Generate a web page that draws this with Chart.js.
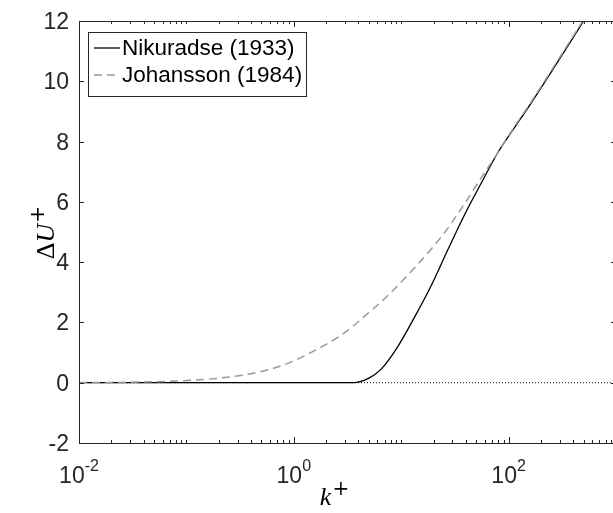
<!DOCTYPE html>
<html>
<head>
<meta charset="utf-8">
<script src="https://cdn.jsdelivr.net/npm/chart.js@4.4.1/dist/chart.umd.min.js"></script>
<style>
  html, body { margin: 0; padding: 0; background: #fff; overflow: hidden; }
  #wrap { width: 616px; height: 513px; }
</style>
</head>
<body>
<div id="wrap"><canvas id="myChart" width="616" height="513"></canvas></div>
<script>
// Nikuradse (1933), solid black
const nikK  = [0.01, 3.6, 5, 6.5, 9.3, 13.2, 18.9, 27.1, 38.6, 55.2, 79, 112.8, 161, 1000];
const nikDU = [0, 0, 0.15, 0.45, 1.2, 2.15, 3.2, 4.4, 5.55, 6.6, 7.62, 8.45, 9.26, 13.7];

// Johansson (1984), dashed grey
const joK  = [0.01, 0.03, 0.1, 0.2, 0.4, 0.82, 1.67, 2.5, 3.41, 4.54, 6.49, 9.28, 13.2, 18.9, 27.1, 38.6, 55.2, 73.5, 100, 161, 1000];
const joDU = [0.005, 0.015, 0.07, 0.15, 0.3, 0.6, 1.12, 1.48, 1.82, 2.2, 2.68, 3.22, 3.8, 4.42, 5.12, 5.92, 6.78, 7.45, 8.2, 9.3, 13.75];

// zero reference (dotted)
const zeroK  = [0.01, 1000];
const zeroDU = [0, 0];

const xLabelTicks = [0.01, 1, 100];
const xLabelExp   = ['-2', '0', '2'];
const yTicks = [-2, 0, 2, 4, 6, 8, 10, 12];
const legendNames = ['Nikuradse (1933)', 'Johansson (1984)'];

function pts(xs, ys) {
  return xs.map((v, i) => ({x: v, y: ys[i]}));
}

const AX = '#262626';
const tickFont = '23px "Liberation Sans", Arial, sans-serif';
const supFont = '16px "Liberation Sans", Arial, sans-serif';
const plusFont = '20px "DejaVu Serif", "Liberation Serif", serif';

const decor = {
  id: 'decor',
  afterDraw(chart) {
    const ctx = chart.ctx;
    const a = chart.chartArea;
    const x = chart.scales.x, y = chart.scales.y;
    const line = (x1, y1, x2, y2) => { ctx.beginPath(); ctx.moveTo(x1, y1); ctx.lineTo(x2, y2); ctx.stroke(); };
    ctx.save();
    ctx.strokeStyle = AX;
    ctx.lineWidth = 1;
    ctx.strokeRect(Math.round(a.left) + 0.5, Math.round(a.top) + 0.5, a.right - a.left, Math.round(a.bottom - a.top));

    // y ticks + labels
    ctx.fillStyle = AX;
    ctx.font = tickFont;
    ctx.textAlign = 'right';
    ctx.textBaseline = 'middle';
    yTicks.forEach(v => {
      const py = Math.round(y.getPixelForValue(v)) + 0.5;
      line(a.left, py, a.left + 5, py);
      line(a.right, py, a.right - 5, py);
      ctx.fillText(String(v), a.left - 10, py + 1);
    });

    // x ticks (log decades, minor inside)
    for (let d = -2; d <= 2; d++) {
      for (let m = 1; m <= 9; m++) {
        const v = m * Math.pow(10, d);
        const px = Math.round(x.getPixelForValue(v)) + 0.5;
        const len = (m === 1 && d % 2 === 0) ? 6 : 3;
        line(px, a.bottom, px, a.bottom - len);
        line(px, a.top, px, a.top + len);
      }
    }

    // x tick labels 10^n
    ctx.textAlign = 'left';
    ctx.textBaseline = 'alphabetic';
    xLabelTicks.forEach((v, i) => {
      const px = x.getPixelForValue(v);
      ctx.font = tickFont;
      const wb = ctx.measureText('10').width;
      ctx.font = supFont;
      const ws = ctx.measureText(xLabelExp[i]).width;
      const x0 = px - (wb + ws) / 2;
      ctx.font = tickFont;
      ctx.fillText('10', x0, 483);
      ctx.font = supFont;
      ctx.fillText(xLabelExp[i], x0 + wb, 471);
    });

    // axis titles (LaTeX-ish serif italic)
    ctx.fillStyle = '#000';
    ctx.font = 'italic 26px "Liberation Serif", "DejaVu Serif", serif';
    const kw = ctx.measureText('k').width;
    ctx.font = plusFont;
    const pw = ctx.measureText('+').width;
    const kx = 334 - (kw + pw) / 2;
    ctx.font = 'italic 26px "Liberation Serif", serif';
    ctx.fillText('k', kx, 505);
    ctx.font = plusFont;
    ctx.fillText('+', kx + kw + 1, 495);

    ctx.save();
    ctx.translate(54, 233);
    ctx.rotate(-Math.PI / 2);
    ctx.font = '26px "Liberation Serif", serif';
    const dw = ctx.measureText('\u0394').width;
    ctx.font = 'italic 26px "Liberation Serif", serif';
    const uw = ctx.measureText('U').width;
    const tot = dw + uw + pw;
    let cx = -tot / 2;
    ctx.font = '26px "Liberation Serif", serif';
    ctx.fillText('\u0394', cx, 0);
    cx += dw;
    ctx.font = 'italic 26px "Liberation Serif", serif';
    ctx.fillText('U', cx, 0);
    cx += uw + 1;
    ctx.font = plusFont;
    ctx.fillText('+', cx, -10);
    ctx.restore();

    // legend
    const lx = 88, ly = 32, lw = 218, lh = 64;
    ctx.fillStyle = '#fff';
    ctx.fillRect(lx, ly, lw, lh);
    ctx.strokeStyle = AX;
    ctx.lineWidth = 1;
    ctx.strokeRect(lx + 0.5, ly + 0.5, lw, lh);
    ctx.font = '22.5px "Liberation Sans", Arial, sans-serif';
    ctx.fillStyle = '#000';
    ctx.textBaseline = 'middle';
    const rows = [48, 75];
    ctx.lineWidth = 1.3;
    ctx.strokeStyle = '#000';
    ctx.setLineDash([]);
    line(94, rows[0], 120, rows[0]);
    ctx.strokeStyle = '#999';
    ctx.setLineDash([8, 5]);
    line(94, rows[1], 120, rows[1]);
    ctx.setLineDash([]);
    ctx.fillText(legendNames[0], 122, rows[0] + 1);
    ctx.fillText(legendNames[1], 122, rows[1] + 1);
    ctx.restore();
  }
};

const ctx = document.getElementById('myChart').getContext('2d');
new Chart(ctx, {
  type: 'line',
  data: {
    datasets: [
      {
        label: legendNames[1],
        data: pts(joK, joDU),
        borderColor: '#999999',
        borderWidth: 1.5,
        borderDash: [8, 5],
        pointRadius: 0,
        cubicInterpolationMode: 'monotone',
        order: 0
      },
      {
        label: legendNames[0],
        data: pts(nikK, nikDU),
        borderColor: '#000000',
        borderWidth: 1.3,
        pointRadius: 0,
        cubicInterpolationMode: 'monotone',
        order: 1
      },
      {
        label: 'zero',
        data: pts(zeroK, zeroDU),
        borderColor: '#000000',
        borderWidth: 1,
        borderDash: [1, 2],
        pointRadius: 0,
        order: 2
      }
    ]
  },
  options: {
    responsive: false,
    animation: false,
    devicePixelRatio: 1,
    layout: { padding: { left: 79, top: 21, right: 0, bottom: 70 } },
    plugins: { legend: { display: false }, tooltip: { enabled: false } },
    scales: {
      x: { type: 'logarithmic', min: 0.01, max: 1000, display: false },
      y: { type: 'linear', min: -2, max: 12, display: false }
    }
  },
  plugins: [decor]
});
</script>
</body>
</html>
